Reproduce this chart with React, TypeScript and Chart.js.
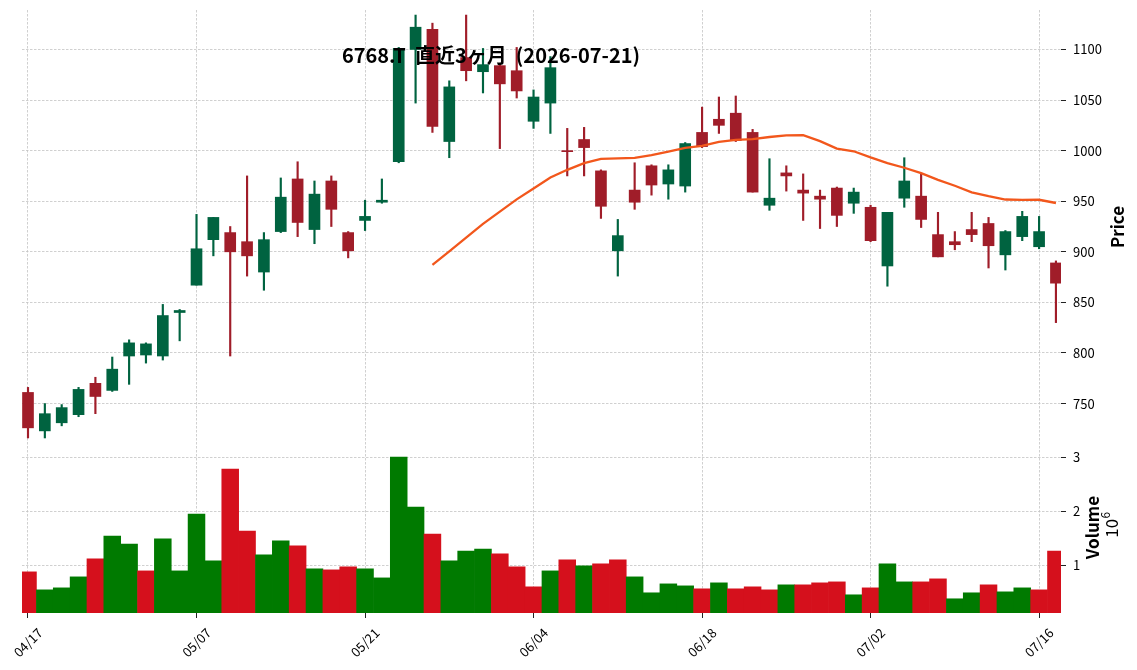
import React, { useEffect, useRef } from 'react';
import { Chart, registerables } from 'chart.js';

Chart.register(...registerables);

// ---- data ----
const categories = [
  '04/17', '04/20', '04/21', '04/22', '04/23', '04/24', '04/27', '04/28', '04/30', '05/01',
  '05/07', '05/08', '05/11', '05/12', '05/13', '05/14', '05/15', '05/18', '05/19', '05/20',
  '05/21', '05/22', '05/25', '05/26', '05/27', '05/28', '05/29', '06/01', '06/02', '06/03',
  '06/04', '06/05', '06/08', '06/09', '06/10', '06/11', '06/12', '06/15', '06/16', '06/17',
  '06/18', '06/19', '06/22', '06/23', '06/24', '06/25', '06/26', '06/29', '06/30', '07/01',
  '07/02', '07/03', '07/06', '07/07', '07/08', '07/09', '07/10', '07/13', '07/14', '07/15',
  '07/16', '07/17',
];

const opens = [
  761, 723, 731, 739, 770, 763, 797, 798, 797, 840,
  867, 912, 919, 910, 880, 920, 972, 922, 970, 919,
  931, 949, 989, 1100, 1120, 1009, 1092, 1078, 1084, 1079,
  1029, 1047, 1000, 1011, 980, 901, 961, 985, 967, 965,
  1018, 1031, 1037, 1018, 946, 978, 961, 955, 963, 948,
  944, 886, 953, 955, 917, 910, 922, 928, 897, 915,
  905, 889,
];

const highs = [
  766, 750, 749, 766, 776, 796, 813, 810, 848, 843,
  937, 934, 925, 975, 919, 973, 989, 970, 975, 920,
  951, 972, 1102, 1134, 1126, 1069, 1134, 1101, 1086, 1102,
  1060, 1093, 1022, 1023, 981, 932, 988, 986, 986, 1008,
  1043, 1053, 1054, 1021, 992, 985, 977, 961, 964, 963,
  946, 939, 993, 977, 939, 920, 939, 934, 921, 940,
  935, 891,
];

const lows = [
  716, 716, 728, 737, 740, 762, 769, 790, 793, 812,
  867, 896, 797, 876, 862, 919, 915, 908, 925, 894,
  921, 948, 988, 1047, 1018, 993, 1069, 1057, 1002, 1052,
  1022, 1017, 975, 975, 933, 876, 942, 956, 952, 959,
  1003, 1017, 1009, 959, 941, 960, 931, 923, 925, 938,
  910, 866, 944, 924, 895, 902, 910, 884, 882, 911,
  903, 830,
];

const closes = [
  726, 740, 746, 764, 757, 784, 810, 809, 837, 842,
  903, 934, 900, 896, 912, 954, 929, 957, 942, 901,
  935, 951, 1101, 1122, 1024, 1063, 1079, 1085, 1066, 1059,
  1053, 1082, 999, 1003, 945, 916, 949, 966, 981, 1007,
  1004, 1025, 1010, 959, 953, 975, 958, 952, 936, 959,
  911, 939, 970, 932, 895, 907, 917, 906, 920, 935,
  920, 869,
];

const volumes = [
  877000, 543000, 580000, 784000, 1117000, 1543000, 1395000, 895000, 1488000, 895000,
  1951000, 1080000, 2784000, 1636000, 1191000, 1451000, 1358000, 932000, 914000, 969000,
  932000, 765000, 3006000, 2080000, 1580000, 1080000, 1265000, 1302000, 1210000, 969000,
  599000, 895000, 1099000, 988000, 1025000, 1099000, 784000, 488000, 654000, 617000,
  562000, 673000, 562000, 599000, 543000, 636000, 636000, 673000, 691000, 451000,
  580000, 1025000, 691000, 691000, 747000, 377000, 488000, 636000, 506000, 580000,
  543000, 1265000,
];

const priceTicks = [750, 800, 850, 900, 950, 1000, 1050, 1100];
const volumeTicks = [1000000, 2000000, 3000000];
const xTickIndex = [0, 10, 20, 30, 40, 50, 60];
const MA_PERIOD = 25;

const TITLE = '6768.T  直近3ヶ月  (2026-07-21)';
const PRICE_LABEL = 'Price';
const VOLUME_LABEL = 'Volume';

// ---- styles ----
const UP_CANDLE = '#006340';
const DOWN_CANDLE = '#a01d29';
const UP_VOL = '#007a00';
const DOWN_VOL = '#d5101c';
const MA_COLOR = '#f2571c';
const GRID_COLOR = '#c4c4c4';
const FONT = "'Noto Sans CJK JP', 'Noto Sans', sans-serif";

function movingAverage(values: number[], period: number) {
  const out: { x: number; y: number }[] = [];
  for (let i = period - 1; i < values.length; i++) {
    let s = 0;
    for (let k = i - period + 1; k <= i; k++) s += values[k];
    out.push({ x: i, y: s / period });
  }
  return out;
}

const labelsPlugin = {
  id: 'labelsPlugin',
  afterDraw(chart: any) {
    const ctx = chart.ctx;
    ctx.save();
    ctx.fillStyle = '#000';
    // title
    ctx.font = `bold 20px ${FONT}`;
    ctx.textAlign = 'center';
    ctx.textBaseline = 'alphabetic';
    ctx.fillText(TITLE, 491, 63);

    const drawRot = (text: string, cx: number, cy: number, font: string) => {
      ctx.save();
      ctx.translate(cx, cy);
      ctx.rotate(-Math.PI / 2);
      ctx.font = font;
      ctx.textAlign = 'center';
      ctx.textBaseline = 'middle';
      ctx.fillText(text, 0, 0);
      ctx.restore();
    };
    drawRot(PRICE_LABEL, 1118, 227, `bold 17px ${FONT}`);
    drawRot(VOLUME_LABEL, 1092.5, 527.5, `bold 17px ${FONT}`);

    // 10^6
    ctx.save();
    ctx.translate(1110, 525);
    ctx.rotate(-Math.PI / 2);
    ctx.font = `17px ${FONT}`;
    const w10 = ctx.measureText('10').width;
    ctx.font = `12px ${FONT}`;
    const w6 = ctx.measureText('6').width;
    const start = -(w10 + w6) / 2;
    ctx.textAlign = 'left';
    ctx.textBaseline = 'middle';
    ctx.font = `17px ${FONT}`;
    ctx.fillText('10', start, 2);
    ctx.font = `12px ${FONT}`;
    ctx.fillText('6', start + w10 + 0.5, -5);
    ctx.restore();

    ctx.restore();
  },
};

export default function App() {
  const canvasRef = useRef<HTMLCanvasElement | null>(null);

  useEffect(() => {
    if (!canvasRef.current) return;
    const n = categories.length;
    const candleColors = categories.map((_, i) => (closes[i] >= opens[i] ? UP_CANDLE : DOWN_CANDLE));
    const volColors = categories.map((_, i) => {
      const up = i === 0 ? closes[i] >= opens[i] : closes[i] >= closes[i - 1];
      return up ? UP_VOL : DOWN_VOL;
    });
    const minVol = Math.min(...volumes);
    const maxVol = Math.max(...volumes);

    const gridCommon = {
      color: GRID_COLOR,
      lineWidth: 0.8,
      tickColor: '#222',
      tickLength: 5,
      tickWidth: 1,
      tickBorderDash: [],
      offset: false,
    };
    const borderCommon = { display: false, dash: [2.5, 1.5] };
    const noPadY = (s: any) => {
      s.width = 76;
      s.paddingTop = 0;
      s.paddingBottom = 0;
    };

    const chart = new Chart(canvasRef.current, {
      type: 'bar',
      data: {
        datasets: [
          {
            type: 'line',
            label: 'MA25',
            data: movingAverage(closes, MA_PERIOD),
            borderColor: MA_COLOR,
            borderWidth: 2.3,
            pointRadius: 0,
            tension: 0,
            yAxisID: 'y',
            order: 0,
          } as any,
          {
            label: 'body',
            data: categories.map((_, i) => ({ x: i, y: [opens[i], closes[i]] })),
            backgroundColor: candleColors,
            barThickness: 11,
            grouped: false,
            yAxisID: 'y',
            order: 1,
          } as any,
          {
            label: 'wick',
            data: categories.map((_, i) => ({ x: i, y: [lows[i], highs[i]] })),
            backgroundColor: candleColors,
            barThickness: 1.5,
            grouped: false,
            yAxisID: 'y',
            order: 2,
          } as any,
          {
            label: 'volume',
            data: categories.map((_, i) => ({ x: i, y: volumes[i] })),
            backgroundColor: volColors,
            barPercentage: 1,
            categoryPercentage: 1,
            grouped: false,
            yAxisID: 'vol',
            order: 3,
          } as any,
        ],
      },
      options: {
        animation: false,
        responsive: true,
        maintainAspectRatio: false,
        layout: { padding: { top: 10, left: 22, right: 0, bottom: 0 } },
        plugins: {
          legend: { display: false },
          tooltip: { enabled: false },
          title: { display: false },
        },
        scales: {
          x: {
            type: 'linear',
            min: -0.356,
            max: n - 0.7,
            offset: false,
            afterBuildTicks: (s: any) => {
              s.ticks = xTickIndex.map((v) => ({ value: v }));
            },
            afterFit: (s: any) => {
              s.height = 57;
              s.paddingLeft = 0;
              s.paddingRight = 0;
            },
            ticks: {
              callback: (v: any) => categories[v as number],
              autoSkip: false,
              minRotation: 45,
              maxRotation: 45,
              labelOffset: 12,
              padding: 7,
              color: '#000',
              font: { size: 13, family: FONT },
            },
            grid: gridCommon,
            border: borderCommon,
          },
          y: {
            type: 'linear',
            position: 'right',
            stack: 'panels',
            stackWeight: 431,
            min: 713,
            max: 1139,
            afterBuildTicks: (s: any) => {
              s.ticks = priceTicks.map((v) => ({ value: v }));
            },
            afterFit: noPadY,
            ticks: {
              callback: (v: any) => String(v),
              padding: 7,
              color: '#000',
              font: { size: 13, family: FONT },
            },
            grid: gridCommon,
            border: borderCommon,
          },
          vol: {
            type: 'linear',
            position: 'right',
            stack: 'panels',
            stackWeight: 172,
            min: 0.3 * minVol,
            max: 1.1 * maxVol,
            afterBuildTicks: (s: any) => {
              s.ticks = volumeTicks.map((v) => ({ value: v }));
            },
            afterFit: noPadY,
            ticks: {
              callback: (v: any) => String(Math.round((v as number) / 1e6)),
              padding: 7,
              color: '#000',
              font: { size: 13, family: FONT },
            },
            grid: gridCommon,
            border: borderCommon,
          },
        } as any,
      },
      plugins: [labelsPlugin],
    });
    return () => chart.destroy();
  }, []);

  return (
    <div style={{ position: 'absolute', left: 0, top: 0, width: 1137, height: 670, background: '#fff' }}>
      <canvas ref={canvasRef} />
    </div>
  );
}
